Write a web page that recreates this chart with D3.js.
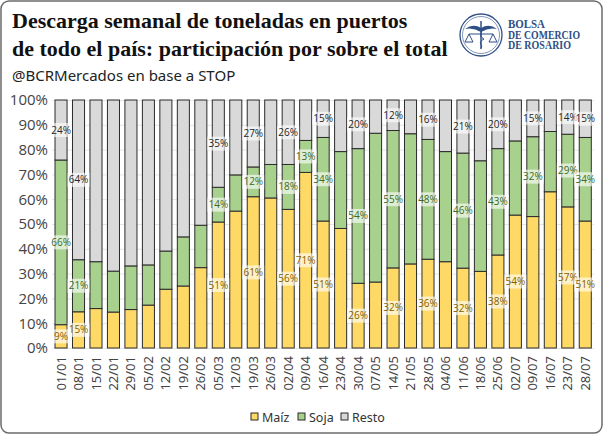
<!DOCTYPE html>
<html lang="es">
<head>
<meta charset="UTF-8">
<title>Descarga semanal de toneladas</title>
<script src="https://d3js.org/d3.v7.min.js"></script>
<style>
  html, body { margin: 0; padding: 0; background: #fff; }
  svg { display: block; }
  .tick text { fill: #444; }
</style>
</head>
<body>
<script>
// semanas
var weeks = ["01/01","08/01","15/01","22/01","29/01","05/02","12/02","19/02","26/02",
  "05/03","12/03","19/03","26/03","02/04","09/04","16/04","23/04","30/04","07/05",
  "14/05","21/05","28/05","04/06","11/06","18/06","25/06","02/07","09/07","16/07",
  "23/07","28/07"];

// participación (%) por semana
var maiz = [9.4, 14.6, 15.9, 14.5, 15.5, 17.3, 23.7, 25.0, 32.4,
  50.8, 55.2, 61.0, 60.5, 55.9, 70.8, 51.2, 48.2, 26.1, 26.6,
  32.3, 33.9, 35.8, 34.8, 32.2, 30.9, 37.5, 53.6, 53.0, 63.0,
  56.9, 51.2];
var soja = [66.4, 21.0, 18.9, 16.5, 17.6, 16.2, 15.4, 19.8, 17.1,
  14.0, 14.6, 12.0, 13.5, 18.1, 12.9, 33.7, 31.0, 54.3, 60.0,
  55.4, 52.5, 48.3, 44.4, 46.4, 44.6, 42.9, 29.9, 32.2, 24.3,
  29.3, 33.7];
var resto = weeks.map(function(d, i) { return 100 - maiz[i] - soja[i]; });

// semanas con etiqueta visible, por serie
var labelMaiz = [0, 1, 9, 11, 13, 14, 15, 17, 19, 21, 23, 25, 26, 29, 30];
var labelSoja = [0, 1, 9, 11, 13, 14, 15, 17, 19, 21, 23, 25, 27, 29, 30];
var labelResto = [0, 1, 9, 11, 13, 15, 17, 19, 21, 23, 25, 27, 29, 30];

var yTicks = [0, 10, 20, 30, 40, 50, 60, 70, 80, 90, 100];

var series = [
  {key: "Maíz", values: maiz, fill: "#FFD966", text: "#7F6000", labels: labelMaiz},
  {key: "Soja", values: soja, fill: "#A9D18E", text: "#3B6B24", labels: labelSoja},
  {key: "Resto", values: resto, fill: "#D9D9D9", text: "#262626", labels: labelResto}
];

var W = 604, H = 436;
var svg = d3.select("body").append("svg")
  .attr("width", W).attr("height", H);

// tarjeta
svg.append("rect")
  .attr("x", 1).attr("y", 1).attr("width", W - 3).attr("height", H - 4)
  .attr("rx", 8).attr("fill", "#fff")
  .attr("stroke", "#6b6b6b").attr("stroke-width", 1.5);

// título
var title = svg.append("g")
  .style("font-family", "'Liberation Serif', 'DejaVu Serif', serif")
  .style("font-weight", "bold").style("font-size", "22px").attr("fill", "#111");
title.append("text").attr("x", 12).attr("y", 28).text("Descarga semanal de toneladas en puertos");
title.append("text").attr("x", 12).attr("y", 56).text("de todo el país: participación por sobre el total");

svg.append("text")
  .attr("x", 12).attr("y", 81)
  .style("font-family", "'Noto Sans', 'Open Sans', sans-serif")
  .style("font-size", "15px").attr("fill", "#222")
  .text("@BCRMercados en base a STOP");

// logo
var navy = "#2f4f86";
var logo = svg.append("g").attr("transform", "translate(481,35)");
logo.append("circle").attr("r", 21).attr("fill", "#fff")
  .attr("stroke", navy).attr("stroke-width", 1.3);
logo.append("circle").attr("r", 18.5).attr("fill", "none")
  .attr("stroke", navy).attr("stroke-width", 0.6);
logo.append("line").attr("x1", 0).attr("x2", 0).attr("y1", -14).attr("y2", 14)
  .attr("stroke", navy).attr("stroke-width", 1.5);
logo.append("path").attr("d", "M-16,-6 Q-8,-12 0,-7 Q8,-12 16,-6 Q8,-8 0,-3 Q-8,-8 -16,-6Z")
  .attr("fill", navy);
logo.append("line").attr("x1", -12).attr("x2", 12).attr("y1", -1).attr("y2", -1)
  .attr("stroke", navy).attr("stroke-width", 1);
logo.append("path").attr("d", "M-16,7 L-12,-1 L-8,7 Z M8,7 L12,-1 L16,7 Z")
  .attr("fill", "none").attr("stroke", navy).attr("stroke-width", 1);
logo.append("path").attr("d", "M-3,-8 C5,-4 -5,0 3,4 C-5,8 3,10 0,13")
  .attr("fill", "none").attr("stroke", navy).attr("stroke-width", 1);
var logoText = svg.append("g")
  .style("font-family", "'Liberation Serif', 'DejaVu Serif', serif")
  .style("font-weight", "bold").style("font-size", "11.5px").attr("fill", navy);
[["BOLSA", 28, 37], ["DE COMERCIO", 38.5, 72], ["DE ROSARIO", 49, 63]].forEach(function(t) {
  logoText.append("text").attr("x", 508).attr("y", t[1])
    .attr("textLength", t[2]).attr("lengthAdjust", "spacingAndGlyphs")
    .text(t[0]);
});

// escalas
var x = d3.scaleBand().domain(weeks).range([52.3, 594]).paddingInner(0.31).paddingOuter(0.155);
var y = d3.scaleLinear().domain([0, 100]).range([348, 100]);

// grilla
svg.append("g")
  .attr("transform", "translate(52,0)")
  .call(d3.axisLeft(y).tickValues(yTicks).tickSize(-542).tickFormat(""))
  .call(function(g) {
    g.select(".domain").remove();
    g.selectAll("line").attr("stroke", "#e6e6e6");
  });

// eje y
svg.append("g")
  .attr("transform", "translate(51,0)")
  .call(d3.axisLeft(y).tickValues(yTicks).tickSize(0).tickPadding(3)
    .tickFormat(function(d) { return d + "%"; }))
  .call(function(g) {
    g.select(".domain").remove();
    g.selectAll("text")
      .style("font-family", "'Open Sans', 'Noto Sans', sans-serif")
      .style("font-size", "15px");
  });

// eje x
svg.append("g")
  .attr("transform", "translate(0,350)")
  .call(d3.axisBottom(x).tickSize(0).tickPadding(0))
  .call(function(g) {
    g.select(".domain").remove();
    g.selectAll("text")
      .style("font-family", "'Noto Sans', 'Open Sans', sans-serif")
      .style("font-size", "13px")
      .attr("text-anchor", "end")
      .attr("transform", "rotate(-90)")
      .attr("x", -6).attr("y", 0).attr("dy", "0.35em");
  });

// barras apiladas
var table = weeks.map(function(w, i) {
  var row = {week: w};
  series.forEach(function(s) { row[s.key] = s.values[i]; });
  return row;
});
var stack = d3.stack().keys(series.map(function(s) { return s.key; }))(table);

var layers = svg.append("g").selectAll("g")
  .data(stack)
  .enter().append("g")
  .attr("fill", function(d, i) { return series[i].fill; });

layers.selectAll("rect")
  .data(function(d) { return d; })
  .enter().append("rect")
  .attr("x", function(d) { return x(d.data.week); })
  .attr("width", x.bandwidth())
  .attr("y", function(d) { return y(d[1]); })
  .attr("height", function(d) { return y(d[0]) - y(d[1]); })
  .attr("stroke", "#2b2b2b")
  .attr("stroke-width", 1);

// etiquetas
stack.forEach(function(layer, si) {
  var s = series[si];
  var g = svg.append("g");
  s.labels.forEach(function(i) {
    var d = layer[i];
    var cx = x(d.data.week) + x.bandwidth() / 2;
    var cy = y((d[0] + d[1]) / 2);
    var lg = g.append("g").attr("transform", "translate(" + cx + "," + cy + ")");
    lg.append("rect")
      .attr("x", -11).attr("y", -7).attr("width", 22).attr("height", 14)
      .attr("fill", "#fff").attr("fill-opacity", 0.62);
    lg.append("text")
      .attr("text-anchor", "middle").attr("dy", "0.35em")
      .style("font-family", "'Open Sans', 'Noto Sans', sans-serif")
      .style("font-size", "10px")
      .attr("fill", s.text)
      .text(Math.round(s.values[i]) + "%");
  });
});

// leyenda
var legend = svg.append("g").attr("transform", "translate(251,413)");
var lx = [0, 47, 90];
series.forEach(function(s, i) {
  var it = legend.append("g").attr("transform", "translate(" + lx[i] + ",0)");
  it.append("rect").attr("width", 7).attr("height", 7)
    .attr("fill", s.fill).attr("stroke", "#2b2b2b").attr("stroke-width", 1);
  it.append("text").attr("x", 11).attr("y", 8.5)
    .style("font-family", "'Noto Sans', 'Open Sans', sans-serif")
    .style("font-size", "12.5px").attr("fill", "#333")
    .text(s.key);
});
</script>
</body>
</html>
